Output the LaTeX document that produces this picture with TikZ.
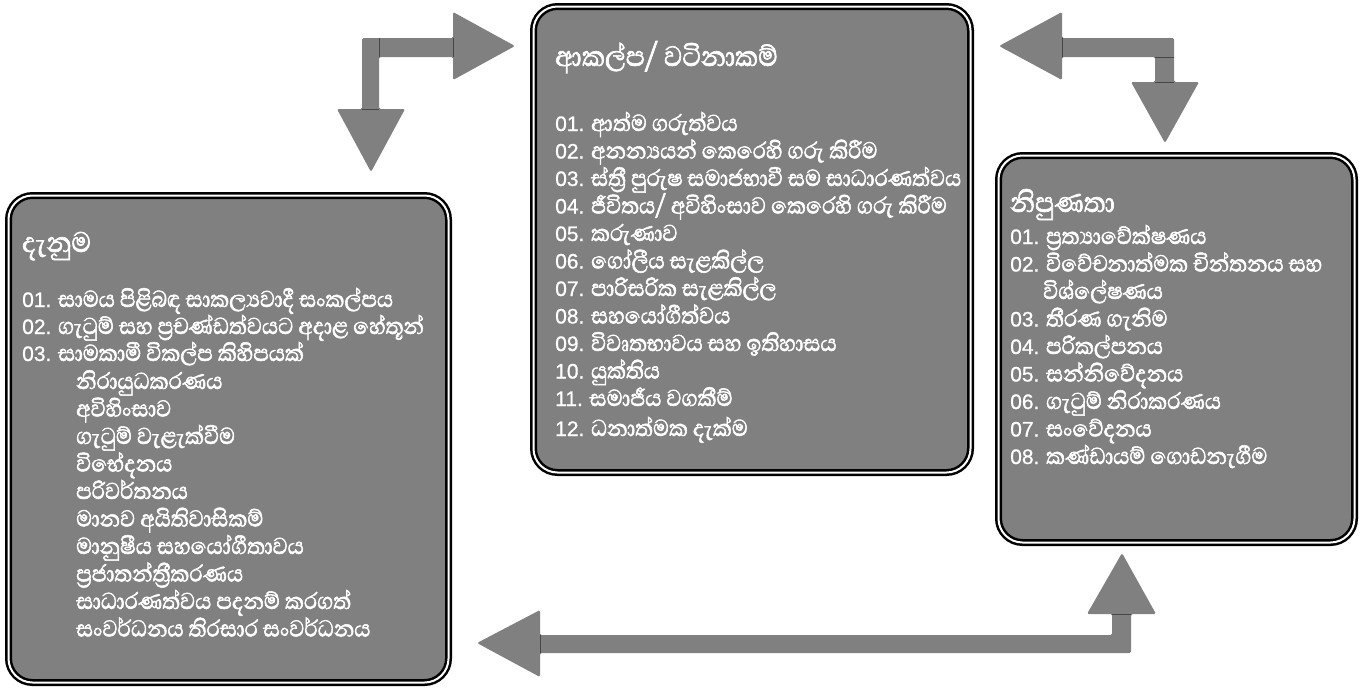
\documentclass[tikz,border=0pt]{standalone}
\usepackage{fontspec}
\newfontfamily\sinhalafont[Script=Sinhala, FakeStretch=0.9, FakeBold=1.8]{Abhaya Libre}
\newfontfamily\numfont[FakeBold=0.8]{Liberation Sans}
\newcommand\numtxt[1]{{\numfont\fontsize{21}{24}\selectfont #1}}
\definecolor{boxgray}{HTML}{808080}
\definecolor{arrgray}{HTML}{808080}
\begin{document}
\begin{tikzpicture}[x=1pt,y=-1pt,
  box/.style={draw=black, line width=2.5pt, double=white, double distance=2pt,
    fill=boxgray, rounded corners=24pt, inner sep=0pt, outer sep=0pt},
  arr/.style={fill=arrgray, draw=none, rounded corners=1.5pt},
  seam/.style={draw=gray!55!black, line width=0.6pt},
  txt/.style={anchor=base west, text=white, inner sep=0pt, text height=17pt, text depth=5pt,
    font=\sinhalafont\fontsize{29.5}{34}\selectfont},
  ttl/.style={anchor=base west, text=white, inner sep=0pt,
    font=\sinhalafont\fontsize{36}{40}\selectfont}]
\useasboundingbox (0,0) rectangle (1362,688);

% boxes
\node[box, minimum width=440pt, minimum height=487pt] (know) at (228.5,439) {};
\node[box, minimum width=437pt, minimum height=466pt] (att) at (752,239.5) {};
\node[box, minimum width=356pt, minimum height=387pt] (skill) at (1176.5,349) {};

% arrows
\fill[arr] (362,109) -- (362,38) -- (453,38) -- (453,12) -- (515,46) -- (453,80)
  -- (453,57) -- (379,57) -- (379,109) -- (405,109) -- (371,172) -- (337,109) -- cycle;
\draw[seam] (453,38) -- (453,57) (379,38) -- (379,57) (362,109) -- (379,109);

\fill[arr] (1062,38) -- (1174,38) -- (1174,82) -- (1199,82) -- (1165,143) -- (1131,82)
  -- (1155,82) -- (1155,57) -- (1062,57) -- (1062,80) -- (999,46) -- (1062,12) -- cycle;
\draw[seam] (1062,38) -- (1062,57) (1155,57) -- (1174,57) (1155,82) -- (1174,82);

\fill[arr] (540,635) -- (1112,635) -- (1112,614) -- (1087,614) -- (1122,553) -- (1156,614)
  -- (1131,614) -- (1131,653) -- (540,653) -- (540,677) -- (477,643) -- (540,610) -- cycle;
\draw[seam] (540,635) -- (540,653) (1112,614) -- (1131,614);

% left box text
\node[ttl] (kt) at (22,252) {දැනුම};
\node[txt] (k1) at (22,307) {\numtxt{01.} සාමය පිළිබඳ සාකල්^^^^200dයවාදී සංකල්පය};
\node[txt] (k2) at (22,334) {\numtxt{02.} ගැටුම් සහ ප්^^^^200dරචණ්ඩත්වයට අදාළ හේතූන්};
\node[txt] (k3) at (22,361) {\numtxt{03.} සාමකාමී විකල්ප කිහිපයක්};
\node[txt] (k4) at (76,389) {නිරායුධකරණය};
\node[txt] (k5) at (76,416.5) {අවිහිංසාව};
\node[txt] (k6) at (76,444) {ගැටුම් වැළැක්වීම};
\node[txt] (k7) at (76,471.5) {විභේදනය};
\node[txt] (k8) at (76,499) {පරිවර්තනය};
\node[txt] (k9) at (76,526.5) {මානව අයිතිවාසිකම්};
\node[txt] (k10) at (76,554) {මානුෂීය සහයෝගීතාවය};
\node[txt] (k11) at (76,581.5) {ප්^^^^200dරජාතන්ත්^^^^200dරීකරණය};
\node[txt] (k12) at (76,609) {සාධාරණත්වය පදනම් කරගත්};
\node[txt] (k13) at (76,636.5) {සංවර්ධනය තිරසාර සංවර්ධනය};

% middle box text
\node[ttl] (at) at (555,66) {ආකල්ප/ වටිනාකම්};
\node[txt] (a1) at (555,131) {\numtxt{01.} ආත්ම ගරුත්වය};
\node[txt] (a2) at (555,158.5) {\numtxt{02.} අනන්^^^^200dයයන් කෙරෙහි ගරු කිරීම};
\node[txt] (a3) at (555,186) {\numtxt{03.} ස්ත්^^^^200dරී පුරුෂ සමාජභාවී සම සාධාරණත්වය};
\node[txt] (a4) at (555,213.5) {\numtxt{04.} ජීවිතය/ අවිහිංසාව කෙරෙහි ගරු කිරීම};
\node[txt] (a5) at (555,241) {\numtxt{05.} කරුණාව};
\node[txt] (a6) at (555,268.5) {\numtxt{06.} ගෝලීය සැළකිල්ල};
\node[txt] (a7) at (555,296) {\numtxt{07.} පාරිසරික සැළකිල්ල};
\node[txt] (a8) at (555,323.5) {\numtxt{08.} සහයෝගීත්වය};
\node[txt] (a9) at (555,351) {\numtxt{09.} විවෘතභාවය සහ ඉතිහාසය};
\node[txt] (a10) at (555,378.5) {\numtxt{10.} යුක්තිය};
\node[txt] (a11) at (555,406) {\numtxt{11.} සමාජීය වගකීම්};
\node[txt] (a12) at (555,436) {\numtxt{12.} ධනාත්මක දැක්ම};

% right box text
\node[ttl] (st) at (1010,212) {නිපුණතා};
\node[txt] (s1) at (1010,244) {\numtxt{01.} ප්^^^^200dරත්^^^^200dයාවේක්ෂණය};
\node[txt] (s2) at (1010,271.5) {\numtxt{02.} විවේචනාත්මක චින්තනය සහ};
\node[txt] (s2b) at (1043,299) {විශ්ලේෂණය};
\node[txt] (s3) at (1010,326.5) {\numtxt{03.} තීරණ ගැනිම};
\node[txt] (s4) at (1010,354) {\numtxt{04.} පරිකල්පනය};
\node[txt] (s5) at (1010,381.5) {\numtxt{05.} සන්නිවේදනය};
\node[txt] (s6) at (1010,409) {\numtxt{06.} ගැටුම් නිරාකරණය};
\node[txt] (s7) at (1010,436.5) {\numtxt{07.} සංවේදනය};
\node[txt] (s8) at (1010,464) {\numtxt{08.} කණ්ඩායම් ගොඩනැගීම};
\end{tikzpicture}
\end{document}
